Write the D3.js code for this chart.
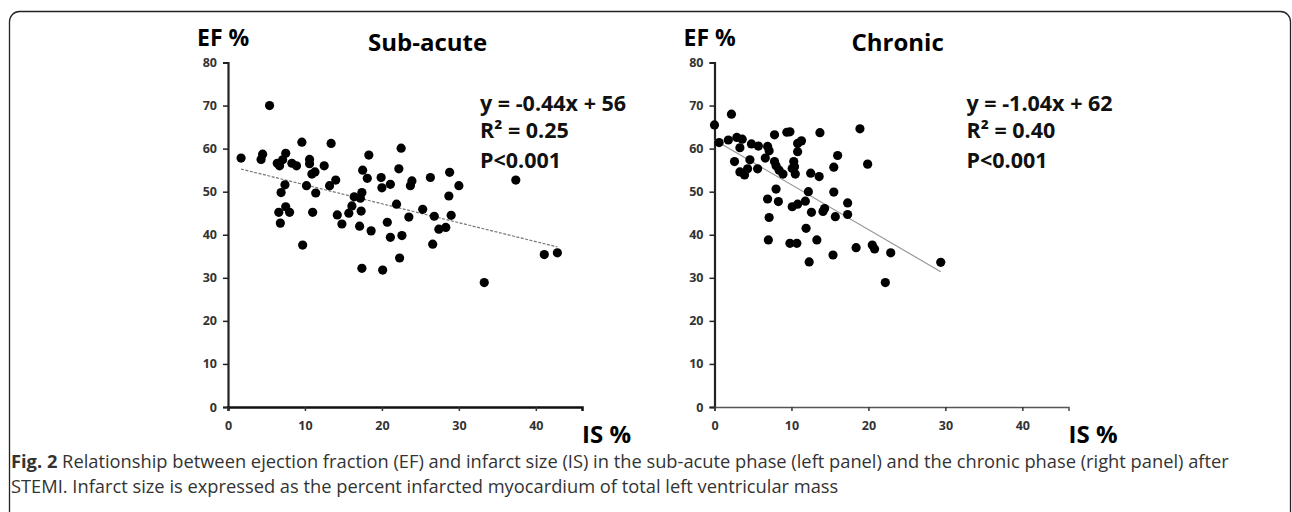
<!DOCTYPE html>
<html>
<head>
<meta charset="utf-8">
<script src="https://cdn.jsdelivr.net/npm/d3@7"></script>
<style>
  html, body { margin: 0; padding: 0; background: #fff; }
  svg { display: block; }
</style>
</head>
<body>
<div id="chart"></div>
<script>
// IS % vs EF %
const subAcuteIS = [1.7, 5.4, 4.5, 4.3, 6.4, 6.7, 7.1, 7.5, 8.3, 8.9, 9.6, 10.6, 10.6, 11.3, 10.9,
    12.5, 13.4, 14.0, 13.2, 10.2, 7.4, 6.9, 11.4, 18.3, 17.5, 18.1, 22.5, 22.2, 19.9, 20.0,
    21.1, 23.9, 23.7, 26.3, 28.8, 30.0, 28.7, 37.4, 16.4, 17.4, 17.2,
    6.6, 7.5, 8.0, 6.8, 9.7, 11.0, 14.2, 14.8, 15.7, 16.1, 17.3, 17.1, 17.4, 18.6, 20.1,
    20.7, 21.1, 21.9, 22.6, 22.3, 23.5, 25.3, 26.8, 26.6, 27.4, 28.3, 29.0, 33.3, 41.1, 42.8];
const subAcuteEF = [57.8, 70.0, 58.7, 57.5, 56.6, 56.0, 57.4, 58.9, 56.6, 56.0, 61.5, 57.5, 56.5, 54.6, 54.1,
    56.0, 61.2, 52.7, 51.4, 51.4, 51.6, 49.8, 49.7, 58.5, 55.0, 53.1, 60.1, 55.3, 53.3, 50.9,
    51.7, 52.5, 51.4, 53.3, 54.5, 51.4, 49.0, 52.7, 48.8, 49.8, 48.5,
    45.2, 46.5, 45.2, 42.7, 37.6, 45.2, 44.6, 42.5, 45.0, 46.7, 45.5, 42.0, 32.2, 40.9, 31.8,
    42.9, 39.4, 47.1, 39.8, 34.6, 44.1, 45.9, 44.3, 37.8, 41.3, 41.7, 44.5, 28.9, 35.4, 35.8];

const chronicIS = [0, 0.6, 2.2, 1.8, 2.9, 3.6, 3.3, 2.6, 3.3, 3.9, 4.3, 4.6, 4.8, 5.7, 5.6, 6.9,
    7.1, 6.6, 7.8, 8.0, 7.8, 9.4, 9.8, 13.7, 18.9, 11.3, 10.8, 10.8, 8.4, 8.9, 10.3, 10.4,
    10.1, 10.5, 16.0, 15.5, 19.9, 12.5, 13.6, 8.0, 6.9, 8.3, 12.2, 15.5,
    10.1, 10.8, 11.8, 12.6, 14.1, 14.3, 15.7, 17.3, 17.3, 7.1, 11.9, 7.0, 9.8, 10.7, 13.3,
    12.3, 15.4, 18.4, 20.5, 20.8, 22.9, 22.2, 29.4];
const chronicEF = [65.5, 61.4, 68.0, 62.0, 62.6, 62.2, 60.2, 57.0, 54.6, 53.9, 55.3, 57.4, 61.1, 60.6, 55.3, 60.5,
    59.5, 57.8, 63.2, 56.0, 57.0, 63.8, 63.9, 63.7, 64.6, 61.8, 61.2, 59.3, 55.0, 54.1, 57.0, 55.8,
    55.4, 54.1, 58.4, 55.7, 56.4, 54.3, 53.5, 50.6, 48.3, 47.7, 50.0, 49.9,
    46.5, 47.1, 47.8, 45.2, 45.4, 46.1, 44.2, 47.4, 44.7, 44.0, 41.5, 38.8, 38.0, 38.0, 38.8,
    33.7, 35.3, 37.0, 37.6, 36.7, 35.8, 28.9, 33.6];

const panelTitles = ["Sub-acute", "Chronic"];
const slopes = [-0.44, -1.04];
const intercepts = [56, 62];
const statLines = [
    ["y = -0.44x + 56", "R² = 0.25", "P<0.001"],
    ["y = -1.04x + 62", "R² = 0.40", "P<0.001"]
];
const xTicks = [0, 10, 20, 30, 40];
const yTicks = [0, 10, 20, 30, 40, 50, 60, 70, 80];

const width = 1292, height = 512;
const FONT = "'Open Sans', 'DejaVu Sans', sans-serif";

const svg = d3.select("#chart").append("svg")
    .attr("width", width)
    .attr("height", height);

// rounded frame
svg.append("rect")
    .attr("x", 9.5).attr("y", 11.5)
    .attr("width", 1281).attr("height", 540)
    .attr("rx", 10)
    .attr("fill", "none")
    .attr("stroke", "#222")
    .attr("stroke-width", 1.3);

const panels = [
    { left: 228, xs: subAcuteIS, ys: subAcuteEF, axisW: 2.5, xAxisCol: "#111", lineCol: "#777", dash: "3,1.5" },
    { left: 714.5, xs: chronicIS, ys: chronicEF, axisW: 1.6, xAxisCol: "#555", lineCol: "#999", dash: null }
];

const statY = [111, 138, 168];

panels.forEach((p, i) => {
    const x = d3.scaleLinear().domain([0, 46]).range([p.left, p.left + 354]);
    const y = d3.scaleLinear().domain([0, 80]).range([407, 62.5]);

    const g = svg.append("g");

    // y axis
    const ya = g.append("g")
        .attr("transform", `translate(${p.left},0)`)
        .call(d3.axisLeft(y).tickValues(yTicks).tickSize(5).tickPadding(6));
    ya.select(".domain").attr("stroke", "#222").attr("stroke-width", 2.2);
    ya.selectAll(".tick line").attr("stroke", "#222").attr("stroke-width", 1.5);
    ya.selectAll("text")
        .style("font-family", FONT).style("font-size", "12.5px")
        .style("font-weight", "bold").attr("fill", "#333");

    // x axis
    const xa = g.append("g")
        .attr("transform", `translate(0,407)`)
        .call(d3.axisBottom(x).tickValues(xTicks).tickSize(4).tickPadding(10));
    xa.select(".domain").attr("stroke", p.xAxisCol).attr("stroke-width", p.axisW);
    xa.selectAll(".tick line").attr("stroke", "#333").attr("stroke-width", 1.5);
    xa.selectAll("text")
        .style("font-family", FONT).style("font-size", "12.5px")
        .style("font-weight", "bold").attr("fill", "#333");

    // trend line
    const ext = d3.extent(p.xs);
    const fit = v => slopes[i] * v + intercepts[i];
    g.append("line")
        .attr("x1", x(ext[0])).attr("y1", y(fit(ext[0])))
        .attr("x2", x(ext[1])).attr("y2", y(fit(ext[1])))
        .attr("stroke", p.lineCol)
        .attr("stroke-width", 1.2)
        .attr("stroke-dasharray", p.dash);

    // points
    g.selectAll("circle")
        .data(p.xs.map((v, k) => [v, p.ys[k]]))
        .join("circle")
        .attr("cx", d => x(d[0]))
        .attr("cy", d => y(d[1]))
        .attr("r", 4.6)
        .attr("fill", "#000");

    // labels
    g.append("text")
        .attr("x", p.left - 31).attr("y", 46)
        .style("font-family", FONT).style("font-size", "23px").style("font-weight", "bold")
        .text("EF %");

    g.append("text")
        .attr("x", p.left + (i === 0 ? 140 : 137)).attr("y", 51)
        .style("font-family", FONT).style("font-size", "24px").style("font-weight", "bold")
        .text(panelTitles[i]);

    g.append("text")
        .attr("x", p.left + 354).attr("y", 443)
        .style("font-family", FONT).style("font-size", "24px").style("font-weight", "bold")
        .text("IS %");

    g.selectAll(".stat")
        .data(statLines[i])
        .join("text")
        .attr("class", "stat")
        .attr("x", p.left + 252)
        .attr("y", (d, k) => statY[k])
        .style("font-family", FONT).style("font-size", "21.5px").style("font-weight", "bold")
        .attr("fill", "#111")
        .text(d => d);
});

// caption
const cap = svg.append("g")
    .style("font-family", FONT).style("font-size", "18.3px").attr("fill", "#333");

const c1 = cap.append("text").attr("x", 11).attr("y", 468);
c1.append("tspan").style("font-weight", "bold").text("Fig. 2");
c1.append("tspan").text(" Relationship between ejection fraction (EF) and infarct size (IS) in the sub-acute phase (left panel) and the chronic phase (right panel) after");

cap.append("text").attr("x", 11).attr("y", 493)
    .text("STEMI. Infarct size is expressed as the percent infarcted myocardium of total left ventricular mass");
</script>
</body>
</html>
